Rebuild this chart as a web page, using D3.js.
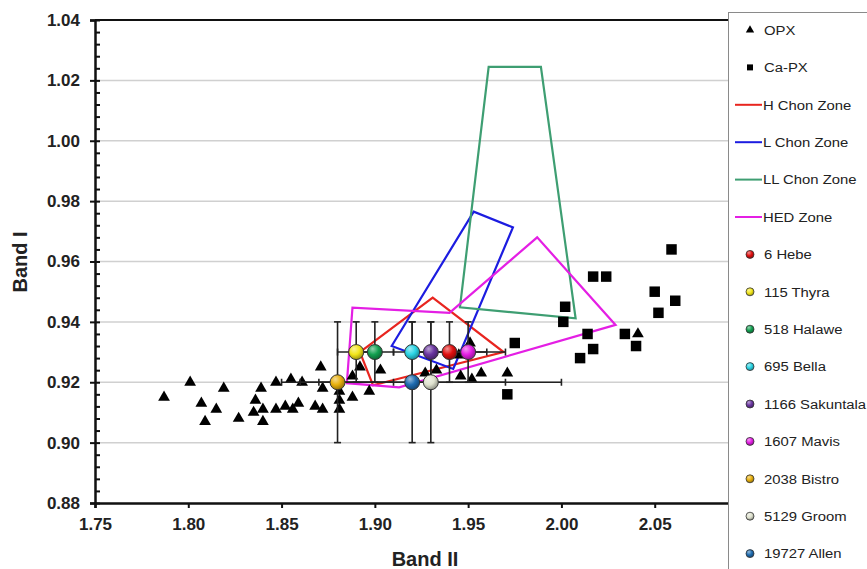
<!DOCTYPE html>
<html>
<head>
<meta charset="utf-8">
<script src="https://cdn.jsdelivr.net/npm/d3@7"></script>
<style>
  body { margin: 0; background: #fff; }
  svg { font-family: "Liberation Sans", Arial, sans-serif; }
</style>
</head>
<body>
<script>
// Datos (Band II, Band I)
const opx = [
  [1.787,0.915],[1.801,0.920],[1.807,0.913],[1.809,0.907],[1.815,0.911],[1.819,0.918],
  [1.827,0.908],[1.836,0.914],[1.835,0.910],[1.839,0.918],[1.840,0.911],[1.840,0.907],
  [1.847,0.920],[1.847,0.911],[1.855,0.921],[1.852,0.912],[1.856,0.911],[1.859,0.913],
  [1.861,0.920],[1.871,0.925],[1.872,0.918],[1.868,0.912],[1.872,0.911],[1.881,0.917],
  [1.881,0.914],[1.881,0.911],[1.888,0.922],[1.888,0.915],[1.897,0.917],[1.892,0.925],
  [1.903,0.924],[1.951,0.933],[1.945,0.929],[1.933,0.924],[1.927,0.923],[1.946,0.922],
  [1.952,0.921],[1.957,0.923],[1.971,0.923],[2.041,0.936]
];
const capx = [
  [2.059,0.964],[2.017,0.955],[2.024,0.955],[2.050,0.950],[2.061,0.947],[2.052,0.943],
  [2.002,0.945],[2.001,0.940],[2.014,0.936],[2.034,0.936],[2.040,0.932],[2.017,0.931],
  [2.010,0.928],[1.975,0.933],[1.971,0.916]
];

// Zonas (polígonos)
const hChonZone = [[1.892,0.930],[1.931,0.948],[1.969,0.930],[1.899,0.919]];
const lChonZone = [[1.909,0.932],[1.953,0.9765],[1.974,0.9713],[1.942,0.9244]];
const llChonZone = [[1.9456,0.9448],[1.961,1.0245],[1.989,1.0245],[2.0076,0.9412]];
const hedZone = [[1.885,0.9197],[1.888,0.9447],[1.940,0.943],[1.987,0.968],[2.029,0.939],[1.913,0.9183]];

// Asteroides
const asteroidNames = ["6 Hebe","115 Thyra","518 Halawe","695 Bella","1166 Sakuntala","1607 Mavis","2038 Bistro","5129 Groom","19727 Allen"];
const band2 = [1.94, 1.89, 1.90, 1.92, 1.93, 1.95, 1.88, 1.93, 1.92];
const band1 = [0.93, 0.93, 0.93, 0.93, 0.93, 0.93, 0.92, 0.92, 0.92];
const band2Err = [0.02, 0.01, 0.01, 0.01, 0.01, 0.02, 0.03, 0.07, 0.05];
const band1Err = [0.01, 0.01, 0.01, 0.01, 0.01, 0.01, 0.02, 0.02, 0.02];
const asteroidColors = ["#e01010","#f2e61a","#12a050","#2ad4e4","#6a35a0","#e41fe4","#e8b00c","#dfe2cf","#1f6cb0"];

// Ejes
const xTicks = [1.75, 1.80, 1.85, 1.90, 1.95, 2.00, 2.05];
const yTicks = [0.88, 0.90, 0.92, 0.94, 0.96, 0.98, 1.00, 1.02, 1.04];

const zones = [
  { name: "H Chon Zone", pts: hChonZone, color: "#e8251f" },
  { name: "L Chon Zone", pts: lChonZone, color: "#1c1ce0" },
  { name: "LL Chon Zone", pts: llChonZone, color: "#3e9e72" },
  { name: "HED Zone", pts: hedZone, color: "#e41fe4" }
];

const W = 867, H = 569;
const svg = d3.select("body").append("svg")
    .attr("width", W)
    .attr("height", H);

const x = d3.scaleLinear().domain([1.75, 2.10]).range([95, 748]);
const y = d3.scaleLinear().domain([0.88, 1.04]).range([503, 20]);

// Gradientes para las esferas
const defs = svg.append("defs");
asteroidColors.forEach((c, i) => {
  const g = defs.append("radialGradient")
      .attr("id", "sph" + i)
      .attr("cx", "40%").attr("cy", "35%").attr("r", "65%")
      .attr("fx", "35%").attr("fy", "28%");
  g.append("stop").attr("offset", "0%").attr("stop-color", d3.interpolateRgb(c, "#fff")(0.55));
  g.append("stop").attr("offset", "55%").attr("stop-color", c);
  g.append("stop").attr("offset", "100%").attr("stop-color", d3.color(c).darker(1.2));
});

// Cuadrícula
svg.append("g")
  .selectAll("line")
  .data(yTicks.slice(1, -1))
  .enter().append("line")
    .attr("x1", x(1.75)).attr("x2", x(2.10))
    .attr("y1", d => y(d)).attr("y2", d => y(d))
    .attr("stroke", "#d0d0d0")
    .attr("stroke-width", 1.5);

// Borde superior
svg.append("line")
    .attr("x1", x(1.75)).attr("x2", x(2.10))
    .attr("y1", y(1.04)).attr("y2", y(1.04))
    .attr("stroke", "#111").attr("stroke-width", 2.2);

// Ejes
const yAxis = svg.append("g")
    .attr("transform", "translate(" + x(1.75) + ",0)")
    .call(d3.axisLeft(y).tickValues(yTicks).tickFormat(d3.format(".2f")).tickSize(5).tickPadding(10));
const yMinor = svg.append("g")
    .attr("transform", "translate(" + x(1.75) + ",0)")
    .call(d3.axisRight(y).tickValues(d3.range(0, 41).map(i => 0.88 + i * 0.004)).tickFormat("").tickSize(5));
const xAxis = svg.append("g")
    .attr("transform", "translate(0," + y(0.88) + ")")
    .call(d3.axisBottom(x).tickValues(xTicks).tickFormat(d3.format(".2f")).tickSize(5).tickPadding(10));

[yAxis, yMinor, xAxis].forEach(a => {
  a.select(".domain").attr("stroke", "#111").attr("stroke-width", 2.5);
  a.selectAll(".tick line").attr("stroke", "#111").attr("stroke-width", 2);
  a.selectAll("text")
    .attr("font-family", "Liberation Sans, Arial, sans-serif")
    .attr("font-size", "17px")
    .attr("font-weight", "bold")
    .attr("fill", "#222");
});
yMinor.select(".domain").remove();

// Títulos de ejes
svg.append("text")
    .attr("x", 425).attr("y", 566)
    .attr("text-anchor", "middle")
    .attr("font-size", "20px").attr("font-weight", "bold").attr("fill", "#222")
    .text("Band II");
svg.append("text")
    .attr("transform", "translate(27,262) rotate(-90)")
    .attr("text-anchor", "middle")
    .attr("font-size", "20px").attr("font-weight", "bold").attr("fill", "#222")
    .text("Band I");

// Zonas
const line = d3.line().x(d => x(d[0])).y(d => y(d[1])).curve(d3.curveLinearClosed);
svg.append("g")
  .selectAll("path")
  .data(zones)
  .enter().append("path")
    .attr("d", d => line(d.pts))
    .attr("fill", "none")
    .attr("stroke", d => d.color)
    .attr("stroke-width", 2.2);

// Puntos OPX y Ca-PX
const tri = d3.symbol().type(d3.symbolTriangle).size(60);
const sq = d3.symbol().type(d3.symbolSquare).size(110);
svg.append("g")
  .selectAll("path")
  .data(opx)
  .enter().append("path")
    .attr("d", tri)
    .attr("transform", d => "translate(" + x(d[0]) + "," + y(d[1]) + ")")
    .attr("fill", "#000");
svg.append("g")
  .selectAll("path")
  .data(capx)
  .enter().append("path")
    .attr("d", sq)
    .attr("transform", d => "translate(" + x(d[0]) + "," + y(d[1]) + ")")
    .attr("fill", "#000");

// Barras de error
const ast = asteroidNames.map((n, i) => ({ name: n, bx: band2[i], by: band1[i], ex: band2Err[i], ey: band1Err[i], i: i }));
const eb = svg.append("g").attr("stroke", "#222").attr("stroke-width", 1.6);
ast.forEach(d => {
  const cx = x(d.bx), cy = y(d.by);
  eb.append("line").attr("x1", x(d.bx - d.ex)).attr("x2", x(d.bx + d.ex)).attr("y1", cy).attr("y2", cy);
  eb.append("line").attr("x1", cx).attr("x2", cx).attr("y1", y(d.by - d.ey)).attr("y2", y(d.by + d.ey));
  [d.bx - d.ex, d.bx + d.ex].forEach(v => eb.append("line").attr("x1", x(v)).attr("x2", x(v)).attr("y1", cy - 3.5).attr("y2", cy + 3.5));
  [d.by - d.ey, d.by + d.ey].forEach(v => eb.append("line").attr("x1", cx - 3.5).attr("x2", cx + 3.5).attr("y1", y(v)).attr("y2", y(v)));
});

// Esferas de asteroides
svg.append("g")
  .selectAll("circle")
  .data(ast)
  .enter().append("circle")
    .attr("cx", d => x(d.bx))
    .attr("cy", d => y(d.by))
    .attr("r", 7.5)
    .attr("fill", d => "url(#sph" + d.i + ")")
    .attr("stroke", "#333")
    .attr("stroke-width", 1);

// Leyenda
const lg = svg.append("g");
lg.append("rect")
    .attr("x", 728.5).attr("y", 12.5)
    .attr("width", 160).attr("height", 580)
    .attr("fill", "#fff").attr("stroke", "#8a8a8a").attr("stroke-width", 1);

const legendItems = [
  { label: "OPX", kind: "tri" },
  { label: "Ca-PX", kind: "sq" }
].concat(zones.map(z => ({ label: z.name, kind: "line", color: z.color })))
 .concat(ast.map(a => ({ label: a.name, kind: "dot", i: a.i })));

legendItems.forEach((d, k) => {
  const ly = 30 + k * 37.4;
  const g = lg.append("g").attr("transform", "translate(0," + ly + ")");
  if (d.kind === "tri") {
    g.append("path").attr("d", d3.symbol().type(d3.symbolTriangle).size(30)).attr("transform", "translate(750,0)").attr("fill", "#000");
  } else if (d.kind === "sq") {
    g.append("path").attr("d", d3.symbol().type(d3.symbolSquare).size(36)).attr("transform", "translate(750,0)").attr("fill", "#000");
  } else if (d.kind === "line") {
    g.append("line").attr("x1", 735).attr("x2", 762).attr("y1", 0).attr("y2", 0).attr("stroke", d.color).attr("stroke-width", 2);
  } else {
    g.append("circle").attr("cx", 750).attr("cy", 0).attr("r", 4)
      .attr("fill", "url(#sph" + d.i + ")").attr("stroke", "#333").attr("stroke-width", 0.8);
  }
  g.append("text")
    .attr("transform", "translate(" + (d.kind === "line" ? 763 : 764) + ",0) scale(1.1,1)")
    .attr("dy", "0.35em")
    .attr("font-size", "13.5px")
    .attr("fill", "#222")
    .text(d.label);
});
</script>
</body>
</html>
